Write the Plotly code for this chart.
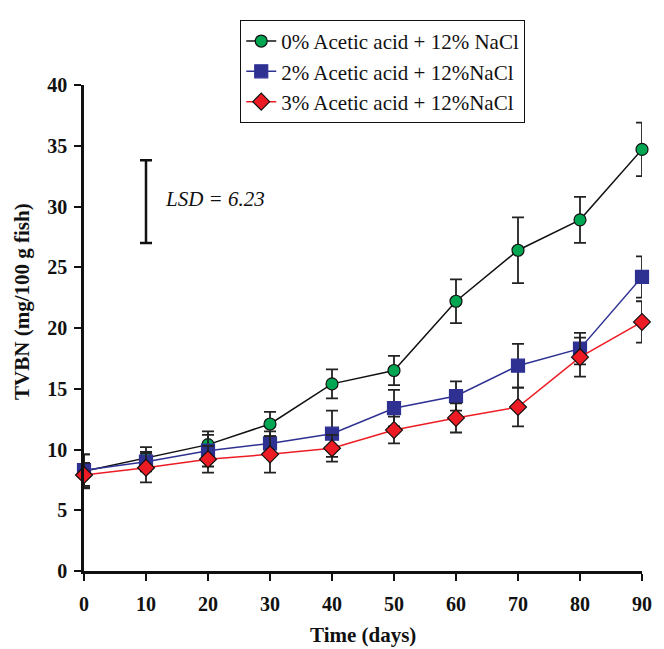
import plotly.graph_objects as go

days = [0, 10, 20, 30, 40, 50, 60, 70, 80, 90]

names = ["0% Acetic acid + 12% NaCl",
         "2% Acetic acid + 12%NaCl",
         "3% Acetic acid + 12%NaCl"]

tvbn_0 = [8.2, 9.3, 10.4, 12.1, 15.4, 16.5, 22.2, 26.4, 28.9, 34.7]
err_0 = [1.4, 0.9, 1.1, 1.0, 1.2, 1.2, 1.8, 2.7, 1.9, 2.2]
tvbn_2 = [8.3, 9.0, 9.9, 10.5, 11.3, 13.4, 14.4, 16.9, 18.3, 24.2]
err_2 = [1.3, 0.8, 1.3, 1.0, 1.9, 1.5, 1.2, 1.8, 1.3, 1.7]
tvbn_3 = [7.9, 8.5, 9.2, 9.6, 10.1, 11.6, 12.6, 13.5, 17.6, 20.5]
err_3 = [1.0, 1.2, 1.1, 1.5, 1.1, 1.1, 1.2, 1.6, 1.6, 1.7]

lsd_day = 10
lsd_low = 27.0
lsd_high = 33.8
lsd_text = "LSD = 6.23"

x_title = "Time (days)"
y_title = "TVBN (mg/100 g fish)"

FONT = "Times New Roman, Liberation Serif, serif"

fig = go.Figure()

styles = [
    dict(y=tvbn_0, e=err_0, line="#111111", sym="circle", fill="#00A651", outline="#111111", size=12),
    dict(y=tvbn_2, e=err_2, line="#2E3192", sym="square", fill="#2E3192", outline="#2E3192", size=13),
    dict(y=tvbn_3, e=err_3, line="#ED1C24", sym="diamond", fill="#ED1C24", outline="#111111", size=13),
]

for name, s in zip(names, styles):
    fig.add_trace(go.Scatter(
        x=days, y=s["y"], name=name, mode="lines+markers",
        line=dict(color=s["line"], width=1.5),
        marker=dict(symbol=s["sym"], size=s["size"], color=s["fill"],
                    line=dict(color=s["outline"], width=1.2)),
        error_y=dict(type="data", array=s["e"], visible=True,
                     color="#222222", thickness=1.8, width=6),
        cliponaxis=False,
    ))

# LSD bar
fig.add_trace(go.Scatter(
    x=[lsd_day], y=[(lsd_low + lsd_high) / 2], mode="markers",
    marker=dict(size=0.1, color="rgba(0,0,0,0)"),
    error_y=dict(type="data", array=[(lsd_high - lsd_low) / 2], visible=True,
                 color="#111111", thickness=2.5, width=6),
    showlegend=False, hoverinfo="skip",
))
fig.add_annotation(x=lsd_day + 2.7, y=(lsd_low + lsd_high) / 2 + 0.2,
                   text="<i>" + lsd_text + "</i>", showarrow=False,
                   xanchor="left", yanchor="middle",
                   font=dict(family=FONT, size=21, color="#111111"))

# axis titles as annotations for exact placement
fig.add_annotation(xref="paper", yref="paper", x=0.5, y=-0.131,
                   text="<b>" + x_title + "</b>", showarrow=False,
                   xanchor="center", yanchor="middle",
                   font=dict(family=FONT, size=21, color="#111111"))
fig.add_annotation(xref="paper", yref="paper", x=-0.11, y=0.555,
                   text="<b>" + y_title + "</b>", showarrow=False, textangle=-90,
                   xanchor="center", yanchor="middle",
                   font=dict(family=FONT, size=21, color="#111111"))

fig.update_layout(
    width=656, height=641,
    margin=dict(l=76, r=18, t=71, b=78),
    plot_bgcolor="white", paper_bgcolor="white",
    font=dict(family=FONT, color="#111111"),
    showlegend=True,
    legend=dict(
        x=0.28, y=1.134, xanchor="left", yanchor="top",
        bgcolor="white", bordercolor="#111111", borderwidth=1,
        font=dict(family=FONT, size=21, color="#111111"),
        tracegroupgap=0, itemwidth=30,
    ),
    xaxis=dict(
        range=[0, 90], tickvals=days, ticks="outside", ticklen=7, tickwidth=2,
        tickcolor="#111111", showline=True, linecolor="#111111", linewidth=2.5,
        showgrid=False, zeroline=False, ticklabelstandoff=6,
        tickfont=dict(family=FONT, size=20, color="#111111", weight="bold"),
    ),
    yaxis=dict(
        range=[0, 40], dtick=5, ticks="outside", ticklen=7, tickwidth=2,
        tickcolor="#111111", showline=True, linecolor="#111111", linewidth=2.5,
        showgrid=False, zeroline=False, ticklabelstandoff=3,
        tickfont=dict(family=FONT, size=20, color="#111111", weight="bold"),
    ),
)

fig.write_html("out.html")
